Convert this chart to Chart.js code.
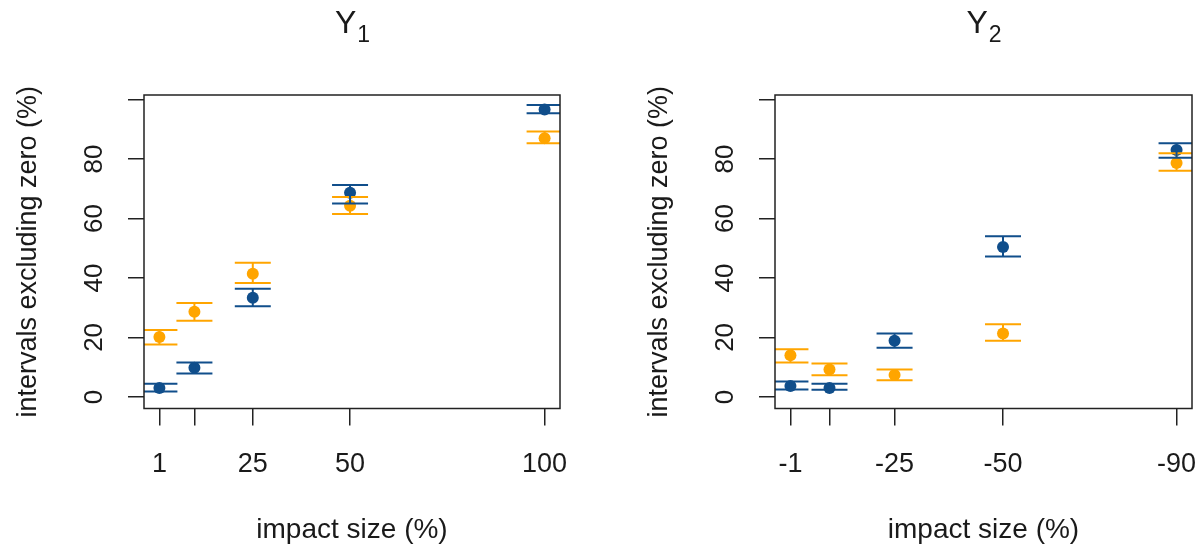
<!DOCTYPE html>
<html>
<head>
<meta charset="utf-8">
<title>Intervals excluding zero by impact size</title>
<script src="https://cdn.jsdelivr.net/npm/chart.js@4.4.1/dist/chart.umd.min.js"></script>
<style>
  html, body { margin: 0; padding: 0; background: #ffffff; }
  #wrap { position: relative; width: 1200px; height: 550px; overflow: hidden; }
  #wrap canvas { position: absolute; top: 0; }
</style>
</head>
<body>
<div id="wrap">
  <canvas id="panelY1" width="600" height="550" style="left:0px"></canvas>
  <canvas id="panelY2" width="600" height="550" style="left:600px"></canvas>
</div>
<script>
// ---- impact sizes (x) and their tick labels ----
const y1Impact = [1, 10, 25, 50, 100];
const y1ImpactLabels = ['1', '', '25', '50', '100'];
const y2Impact = [-1, -10, -25, -50, -90];
const y2ImpactLabels = ['-1', '', '-25', '-50', '-90'];

// ---- percentage axis ticks ----
const pctTicks = [0, 20, 40, 60, 80, 100];
const pctTickLabels = ['0', '20', '40', '60', '80', ''];

// ---- Y1: intervals excluding zero (%), estimate with interval limits ----
const y1BlueMid   = [3.0, 9.8, 33.3, 68.6, 96.6];
const y1BlueLo    = [1.8, 7.9, 30.5, 65.0, 95.4];
const y1BlueHi    = [4.4, 11.6, 36.4, 71.2, 98.1];
const y1OrangeMid = [20.1, 28.6, 41.4, 64.3, 87.0];
const y1OrangeLo  = [17.6, 25.6, 38.3, 61.5, 85.3];
const y1OrangeHi  = [22.5, 31.6, 45.1, 67.2, 89.2];

// ---- Y2 ----
const y2BlueMid   = [3.7, 3.0, 18.9, 50.4, 83.0];
const y2BlueLo    = [2.5, 2.4, 16.5, 47.2, 80.4];
const y2BlueHi    = [5.2, 4.4, 21.3, 54.0, 85.3];
const y2OrangeMid = [14.0, 9.2, 7.4, 21.3, 78.6];
const y2OrangeLo  = [11.6, 7.3, 5.6, 18.9, 76.0];
const y2OrangeHi  = [16.0, 11.2, 9.2, 24.4, 81.9];

const BLUE = '#104E8B';
const ORANGE = '#FFA500';
const INK = '#1a1a1a';
const FONT = '"Liberation Sans", Arial, Helvetica, sans-serif';
const CAP_HALF = 18;

function decorPlugin(p) {
  return {
    id: 'panelDecor',
    afterDatasetsDraw(chart) {
      const { ctx, chartArea: a, scales: { x, y } } = chart;
      ctx.save();
      ctx.beginPath();
      ctx.rect(a.left, a.top, a.right - a.left, a.bottom - a.top);
      ctx.clip();
      ctx.lineWidth = 2;
      ctx.lineCap = 'butt';
      const groups = [
        { color: ORANGE, lo: p.orangeLo, hi: p.orangeHi },
        { color: BLUE, lo: p.blueLo, hi: p.blueHi }
      ];
      groups.forEach(g => {
        ctx.strokeStyle = g.color;
        p.impact.forEach((v, i) => {
          const px = x.getPixelForValue(v);
          const yl = y.getPixelForValue(g.lo[i]);
          const yh = y.getPixelForValue(g.hi[i]);
          ctx.beginPath();
          ctx.moveTo(px, yl); ctx.lineTo(px, yh);
          ctx.moveTo(px - CAP_HALF, yl); ctx.lineTo(px + CAP_HALF, yl);
          ctx.moveTo(px - CAP_HALF, yh); ctx.lineTo(px + CAP_HALF, yh);
          ctx.stroke();
        });
      });
      ctx.restore();
    },
    afterDraw(chart) {
      const { ctx, chartArea: a, scales: { x, y } } = chart;
      ctx.save();
      // plot frame
      ctx.strokeStyle = '#222';
      ctx.lineWidth = 1.5;
      ctx.strokeRect(a.left, a.top, a.right - a.left, a.bottom - a.top);

      ctx.fillStyle = INK;
      // percentage tick labels, rotated
      ctx.font = '26px ' + FONT;
      ctx.textAlign = 'center';
      ctx.textBaseline = 'alphabetic';
      pctTicks.forEach((v, i) => {
        const lab = pctTickLabels[i];
        if (!lab) return;
        ctx.save();
        ctx.translate(a.left - 42, y.getPixelForValue(v));
        ctx.rotate(-Math.PI / 2);
        ctx.fillText(lab, 0, 0);
        ctx.restore();
      });
      // impact tick labels
      ctx.font = '27px ' + FONT;
      p.impact.forEach((v, i) => {
        const lab = p.impactLabels[i];
        if (!lab) return;
        ctx.fillText(lab, x.getPixelForValue(v), a.bottom + 63);
      });
      // axis titles
      const cx = (a.left + a.right) / 2;
      const cy = (a.top + a.bottom) / 2;
      ctx.font = '28px ' + FONT;
      ctx.fillText('impact size (%)', cx, 538);
      ctx.save();
      ctx.font = '27px ' + FONT;
      ctx.translate(a.left - 108, cy);
      ctx.rotate(-Math.PI / 2);
      ctx.fillText('intervals excluding zero (%)', 0, 0);
      ctx.restore();
      // panel title with subscript
      ctx.textAlign = 'left';
      ctx.font = '32px ' + FONT;
      const wMain = ctx.measureText(p.title).width;
      ctx.font = '23px ' + FONT;
      const wSub = ctx.measureText(p.sub).width;
      const start = cx - (wMain + wSub) / 2;
      ctx.font = '32px ' + FONT;
      ctx.fillText(p.title, start, 33);
      ctx.font = '23px ' + FONT;
      ctx.fillText(p.sub, start + wMain + 1, 42);
      ctx.restore();
    }
  };
}

function makePanel(canvasId, p) {
  const tickGrid = (len) => ({
    drawOnChartArea: false, drawTicks: true, tickLength: len,
    color: '#222', lineWidth: 1.5
  });
  return new Chart(document.getElementById(canvasId), {
    type: 'scatter',
    data: {
      datasets: [
        { label: 'orange', data: p.impact.map((v, i) => ({ x: v, y: p.orangeMid[i] })),
          backgroundColor: ORANGE, borderColor: ORANGE, pointRadius: 6, pointBorderWidth: 0 },
        { label: 'blue', data: p.impact.map((v, i) => ({ x: v, y: p.blueMid[i] })),
          backgroundColor: BLUE, borderColor: BLUE, pointRadius: 6, pointBorderWidth: 0 }
      ]
    },
    options: {
      responsive: false,
      animation: false,
      devicePixelRatio: 1,
      layout: { padding: { left: 0, top: 95, right: p.padRight, bottom: 0 } },
      plugins: { legend: { display: false }, tooltip: { enabled: false }, title: { display: false } },
      scales: {
        x: {
          type: 'linear', min: p.xMin, max: p.xMax, reverse: p.reverse,
          afterFit: s => { s.height = 141.5; },
          afterBuildTicks: s => { s.ticks = p.impact.map(v => ({ value: v })); },
          grid: tickGrid(17), border: { display: false }, ticks: { display: false }
        },
        y: {
          type: 'linear', min: -3.9, max: 101.5,
          afterFit: s => { s.width = p.left; },
          afterBuildTicks: s => { s.ticks = pctTicks.map(v => ({ value: v })); },
          grid: tickGrid(16), border: { display: false }, ticks: { display: false }
        }
      }
    },
    plugins: [decorPlugin(p)]
  });
}

makePanel('panelY1', {
  title: 'Y', sub: '1',
  impact: y1Impact, impactLabels: y1ImpactLabels,
  blueMid: y1BlueMid, blueLo: y1BlueLo, blueHi: y1BlueHi,
  orangeMid: y1OrangeMid, orangeLo: y1OrangeLo, orangeHi: y1OrangeHi,
  xMin: -2.96, xMax: 103.96, reverse: false, left: 144, padRight: 40
});

makePanel('panelY2', {
  title: 'Y', sub: '2',
  impact: y2Impact, impactLabels: y2ImpactLabels,
  blueMid: y2BlueMid, blueLo: y2BlueLo, blueHi: y2BlueHi,
  orangeMid: y2OrangeMid, orangeLo: y2OrangeLo, orangeHi: y2OrangeHi,
  xMin: -93.56, xMax: 2.56, reverse: true, left: 175, padRight: 8
});
</script>
</body>
</html>
